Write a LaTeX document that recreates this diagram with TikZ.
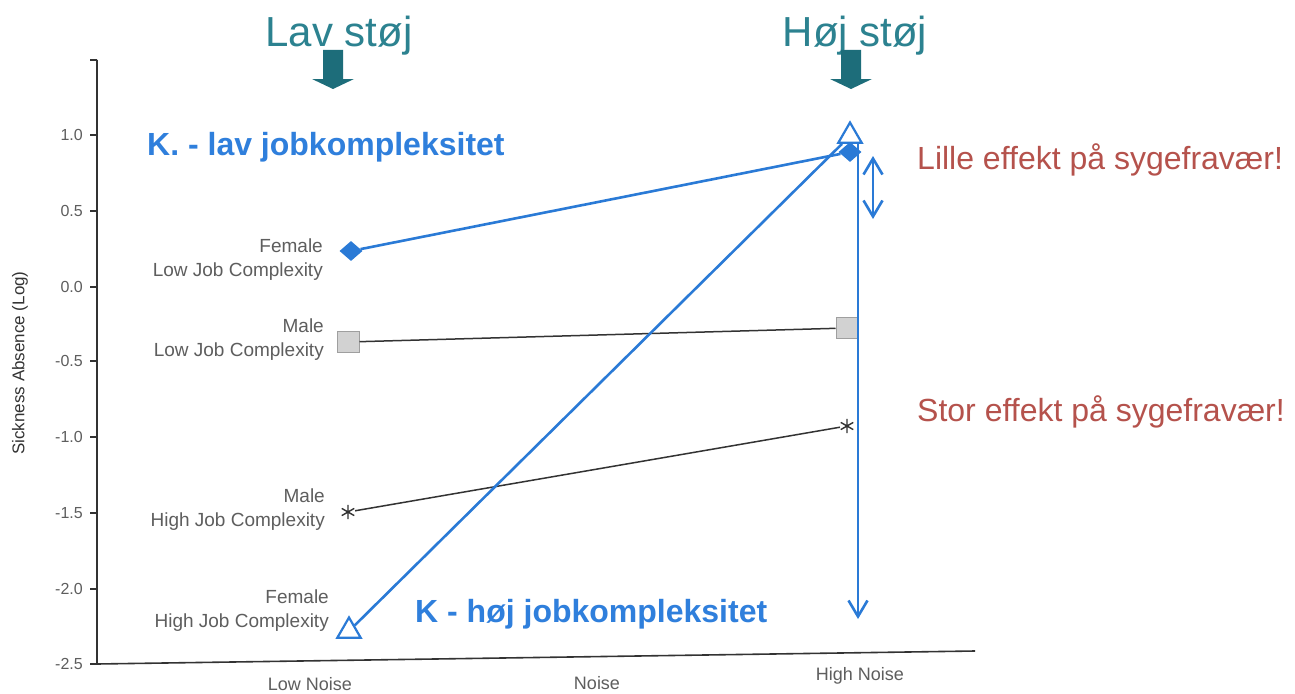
\documentclass[tikz,border=0pt]{standalone}
\usepackage{fontspec}
\setmainfont{Liberation Sans}
\usetikzlibrary{shapes.geometric,arrows.meta}
\definecolor{tealtext}{HTML}{2C8290}
\definecolor{tealdark}{HTML}{1D6D7A}
\definecolor{kblue}{HTML}{2F7FDC}
\definecolor{lblue}{HTML}{2A7AD6}
\definecolor{effred}{HTML}{B5524C}
\definecolor{axgray}{HTML}{333333}
\definecolor{lblgray}{HTML}{5E5E5E}
\tikzset{
  ticklbl/.style={anchor=east, font=\fontsize{16}{18}\selectfont, text=lblgray, inner sep=0},
  grplbl/.style={anchor=east, align=right, font=\fontsize{19}{24}\selectfont, text=lblgray, inner sep=0},
  xlbl/.style={font=\fontsize{18}{20}\selectfont, text=lblgray, inner sep=0},
  fdia/.style={diamond, fill=lblue, inner sep=0, minimum width=23, minimum height=20},
  msq/.style={rectangle, draw=gray!75, fill=gray!35, line width=1, minimum width=22, minimum height=21, inner sep=0},
  ftri/.style={regular polygon, regular polygon sides=3, draw=lblue, line width=2.2, minimum size=27, inner sep=0},
  mstar/.style={circle, inner sep=0, minimum size=14},
  axisline/.style={line width=1.6, axgray},
  dataline/.style={line width=1.5, axgray},
  blueline/.style={line width=2.6, lblue},
  headtxt/.style={anchor=base, font=\fontsize{42}{46}\selectfont, text=tealtext, inner sep=0},
  ktxt/.style={anchor=base west, font=\bfseries\fontsize{32}{36}\selectfont, text=kblue, inner sep=0},
  efftxt/.style={anchor=base west, font=\fontsize{32}{36}\selectfont, text=effred, inner sep=0},
  barb/.style={line width=2.6, lblue},
  vbarb/.tip={Straight Barb[length=16pt,width=19pt]},
}
\begin{document}
\begin{tikzpicture}[x=1pt,y=-1pt]
\useasboundingbox[fill=white] (0,0) rectangle (1295,693);

% axes
\coordinate (ytop) at (97,60);
\coordinate (origin) at (97,664);
\coordinate (xend) at (975,651);
\draw[axisline] (ytop) -- (origin) -- (xend);
\foreach \y in {60,135,211,287,361,437,513,589,664}
  \draw[axisline] (90,\y) -- (97,\y);

% tick labels
\node[ticklbl] (t10) at (83,135) {1.0};
\node[ticklbl] (t05) at (83,211) {0.5};
\node[ticklbl] (t00) at (83,287) {0.0};
\node[ticklbl] (tm05) at (83,361) {-0.5};
\node[ticklbl] (tm10) at (83,437) {-1.0};
\node[ticklbl] (tm15) at (83,513) {-1.5};
\node[ticklbl] (tm20) at (83,589) {-2.0};
\node[ticklbl] (tm25) at (83,664) {-2.5};
\node[font=\fontsize{17}{20}\selectfont, text=axgray, rotate=90, inner sep=0] (ylab) at (20,363) {Sickness Absence (Log)};

% x labels
\node[xlbl] (lown) at (310,684) {Low Noise};
\node[xlbl] (noise) at (597,683) {Noise};
\node[xlbl] (highn) at (860,676) {High Noise};

% group labels
\node[grplbl] (g1) at (323,260) {Female\\Low Job Complexity};
\node[grplbl] (g2) at (324,340) {Male\\Low Job Complexity};
\node[grplbl] (g3) at (325,510) {Male\\High Job Complexity};
\node[grplbl] (g4) at (329,611) {Female\\High Job Complexity};

% data
\node[msq] (ml1) at (348,342) {};
\node[msq] (ml2) at (847,328) {};
\draw[dataline] (ml1) -- (ml2);

\node[mstar] (mh1) at (348,512) {};
\node[mstar] (mh2) at (847,426) {};
\draw[dataline] (mh1) -- (mh2);
\draw[line width=1.4, axgray] (mh1.90) -- (mh1.270) (mh1.30) -- (mh1.210) (mh1.150) -- (mh1.330);
\draw[line width=1.4, axgray] (mh2.90) -- (mh2.270) (mh2.30) -- (mh2.210) (mh2.150) -- (mh2.330);

\node[fdia] (fl1) at (351,251) {};
\node[fdia] (fl2) at (850,152) {};
\draw[blueline] (fl1) -- (fl2);

\node[ftri] (fh1) at (349,631) {};
\node[ftri] (fh2) at (850,136) {};
\draw[blueline] (fh1) -- (fh2);

% effect arrows
\coordinate (va1) at (858,143);
\coordinate (va2) at (858,619);
\draw[barb, -{vbarb}] (va1) -- (va2);
\coordinate (da1) at (873,156);
\coordinate (da2) at (873,219);
\draw[barb, {vbarb}-{vbarb}] (da1) -- (da2);

% headings with block arrows
\node[headtxt] (lav) at (339,47) {Lav støj};
\node[headtxt] (hoj) at (855,47) {Høj støj};
\coordinate (la) at (333,50);
\coordinate (ha) at (851,50);
\fill[tealdark] (la) ++(-10,0) -- ++(20,0) -- ++(0,29) -- ++(11,0) -- ++(-21,10) -- ++(-21,-10) -- ++(11,0) -- cycle;
\fill[tealdark] (ha) ++(-10,0) -- ++(20,0) -- ++(0,29) -- ++(11,0) -- ++(-21,10) -- ++(-21,-10) -- ++(11,0) -- cycle;

% annotations
\node[ktxt] (klav) at (147,155) {K. - lav jobkompleksitet};
\node[ktxt] (khoj) at (415,622) {K - høj jobkompleksitet};
\node[efftxt] (lille) at (917,169) {Lille effekt på sygefravær!};
\node[efftxt] (stor) at (917,421) {Stor effekt på sygefravær!};
\end{tikzpicture}
\end{document}
